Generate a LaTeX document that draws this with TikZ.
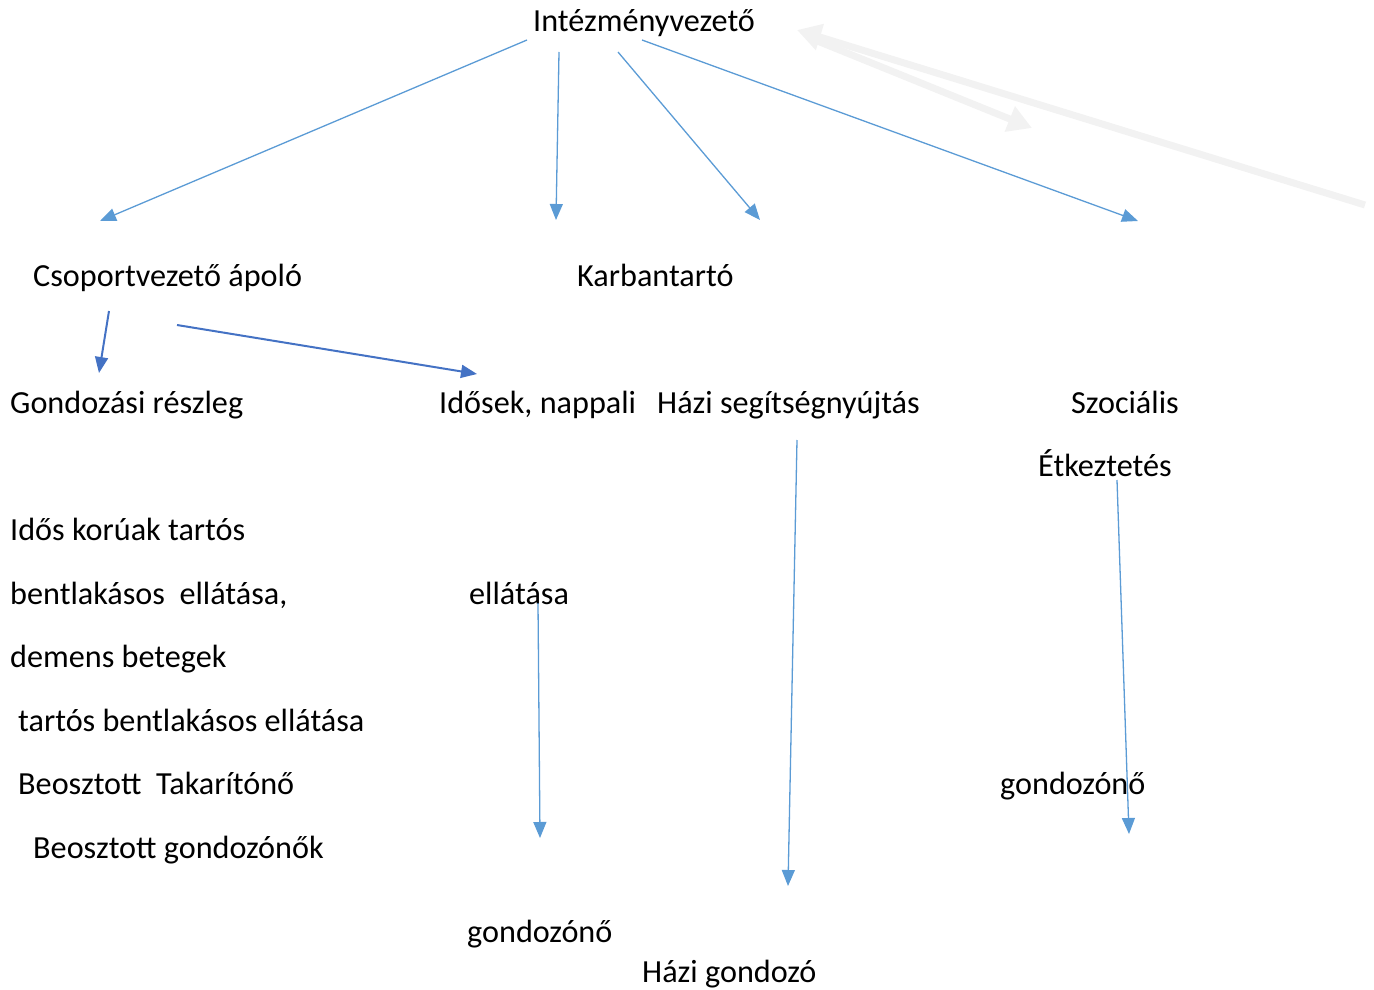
\documentclass[tikz,border=0pt]{standalone}
\usepackage{fontspec}
\setmainfont{Carlito}
\usetikzlibrary{arrows.meta}
\definecolor{lblue}{HTML}{5B9BD5}
\definecolor{dblue}{HTML}{4472C4}
\definecolor{lgray}{HTML}{F2F2F2}
\tikzset{>={Triangle[length=16pt,width=13pt]}}

\begin{document}
\begin{tikzpicture}[x=1pt,y=-1pt,
  txt/.style={anchor=base west,inner sep=0pt,font=\fontsize{32.2}{38}\selectfont},
  arr/.style={->,draw=lblue,line width=1.3pt},
  darr/.style={->,draw=dblue,line width=2pt},
  garr/.style={-{Triangle[length=24pt,width=26pt]},draw=lgray,line width=7pt}]
\useasboundingbox (0,0) rectangle (1374,990);

\node[txt] (ceo) at (533,32) {Intézményvezető};
\node[txt] (csop) at (33,286) {Csoportvezető ápoló};
\node[txt] (karb) at (577,286) {Karbantartó};

\node[txt] (gond) at (10,413) {Gondozási részleg};
\node[txt] (idos) at (439,413) {Idősek, nappali};
\node[txt] (hazi) at (657,413) {Házi segítségnyújtás};
\node[txt] (szoc) at (1071,413) {Szociális};
\node[txt] (etk) at (1038,476) {Étkeztetés};

\node[txt] (sor1) at (10,540) {Idős korúak tartós};
\node[txt] (sor2) at (10,604) {bentlakásos~~ellátása,};
\node[txt] (sor3) at (10,667) {demens betegek};
\node[txt] (sor4) at (18,731) {tartós bentlakásos ellátása};
\node[txt] (sor5) at (18,794) {Beosztott~~Takarítónő};
\node[txt] (sor6) at (33,858) {Beosztott gondozónők};

\node[txt] (ell) at (469,604) {ellátása};
\node[txt] (gn1) at (1000,794) {gondozónő};
\node[txt] (gn2) at (467,942) {gondozónő};
\node[txt] (hg) at (642,982) {Házi gondozó};

% felső nyilak
\draw[arr] ([shift={(-6,8)}]ceo.base west) -- ([shift={(67,-65)}]csop.base west);
\draw[arr] ([shift={(26,20)}]ceo.base west) -- ([shift={(-21,-66)}]karb.base west);
\draw[arr] ([shift={(85,20)}]ceo.base west) -- ([shift={(103,-193)}]hazi.base west);
\draw[arr] ([shift={(109,8)}]ceo.base west) -- ([shift={(67,-192)}]szoc.base west);

\draw[darr] ([shift={(76,25)}]csop.base west) -- ([shift={(89,-40)}]gond.base west);
\draw[darr] ([shift={(144,39)}]csop.base west) -- ([shift={(38,-39)}]idos.base west);

\draw[arr] ([shift={(69,-1)}]ell.base west) -- ([shift={(73,-104)}]gn2.base west);
\draw[arr] ([shift={(140,27)}]hazi.base west) -- ([shift={(146,-96)}]hg.base west);
\draw[arr] ([shift={(79,4)}]etk.base west) -- ([shift={(129,40)}]gn1.base west);

% szürke nyilak
\coordinate (g1) at (1365,205);
\coordinate (g2) at (797,30);
\coordinate (g3) at (810,38);
\coordinate (g4) at (1032,128);
\draw[garr] (g1) -- (g2);
\draw[garr] (g3) -- (g4);
\end{tikzpicture}
\end{document}
